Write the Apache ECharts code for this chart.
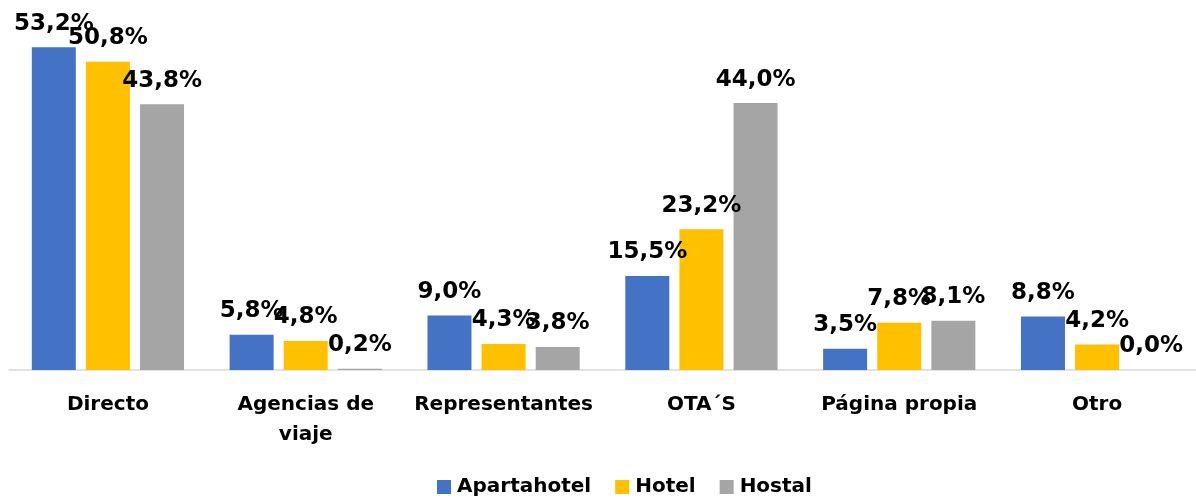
<!DOCTYPE html>
<html>
<head>
<meta charset="utf-8">
<script src="https://cdn.jsdelivr.net/npm/echarts@6/dist/echarts.min.js"></script>
<style>
  html, body { margin: 0; padding: 0; background: #fff; }
  #chart { width: 1196px; height: 498px; }
</style>
</head>
<body>
<div id="chart"></div>
<script>
const categories = ['Directo', 'Agencias de\nviaje', 'Representantes', 'OTA´S', 'Página propia', 'Otro'];
const apartahotel = [53.2, 5.8, 9.0, 15.5, 3.5, 8.8];
const hotel = [50.8, 4.8, 4.3, 23.2, 7.8, 4.2];
const hostal = [43.8, 0.2, 3.8, 44.0, 8.1, 0.0];

const font = 'DejaVu Sans';
const fmt = p => p.value.toFixed(1).replace('.', ',') + '%';

const makeSeries = (name, data, color) => ({
    name,
    type: 'bar',
    data,
    barWidth: 44,
    barGap: '23%',
    itemStyle: { color },
    label: {
        show: true,
        position: 'top',
        distance: 12,
        formatter: fmt,
        fontFamily: font,
        fontWeight: 'bold',
        fontSize: 23,
        color: '#000',
        textBorderWidth: 0
    }
});

const chart = echarts.init(document.getElementById('chart'));
chart.setOption({
    animation: false,
    grid: { left: 9, width: 1190, top: 6, height: 364 },
    legend: {
        top: 472,
        left: 432,
        itemWidth: 14,
        itemHeight: 14,
        itemGap: 24,
        icon: 'rect',
        textStyle: { fontFamily: font, fontWeight: 'bold', fontSize: 20, color: '#000', padding: [0, 0, 0, 1] },
        data: ['Apartahotel', 'Hotel', 'Hostal']
    },
    xAxis: {
        type: 'category',
        data: categories,
        axisTick: { show: false },
        axisLine: { lineStyle: { color: '#d9d9d9', width: 1.5 } },
        axisLabel: {
            interval: 0,
            margin: 20,
            fontFamily: font,
            fontWeight: 'bold',
            fontSize: 20,
            lineHeight: 30,
            color: '#000'
        }
    },
    yAxis: {
        type: 'value',
        min: 0,
        max: 60,
        show: false,
        splitLine: { show: false }
    },
    series: [
        makeSeries('Apartahotel', apartahotel, '#4472C4'),
        makeSeries('Hotel', hotel, '#FFC000'),
        makeSeries('Hostal', hostal, '#A5A5A5')
    ]
});
</script>
</body>
</html>
